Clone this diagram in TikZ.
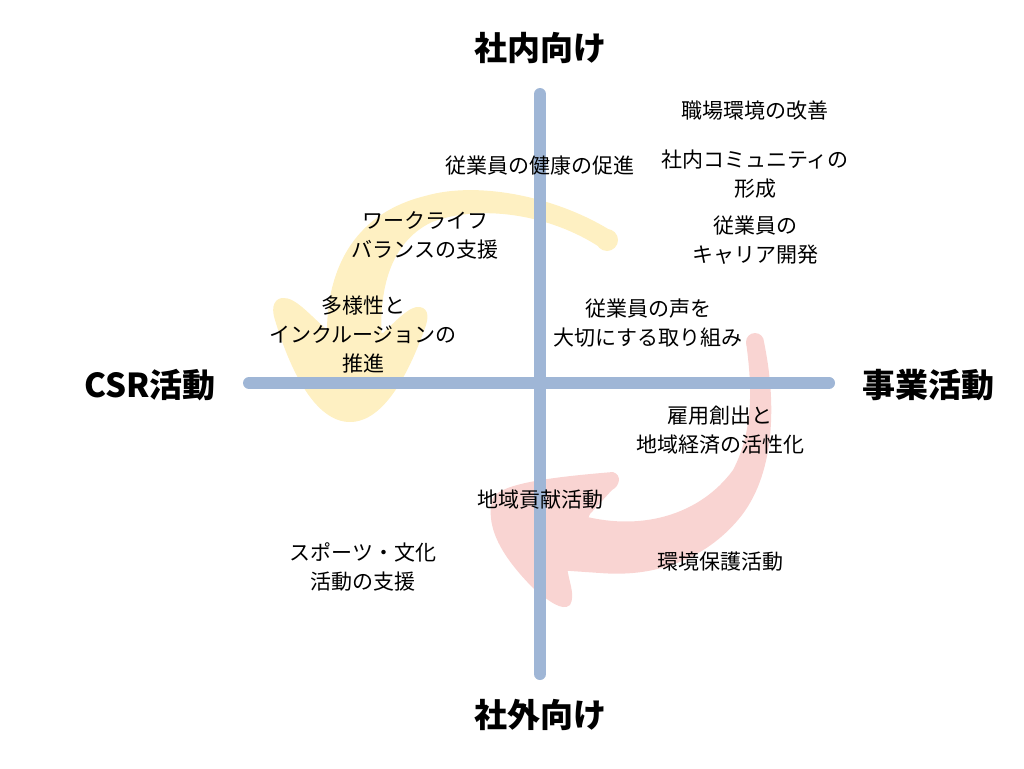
\documentclass[tikz,border=0pt]{standalone}
\usepackage{fontspec}
\setmainfont{Noto Sans CJK JP}
\usepackage{tikz}
\usetikzlibrary{positioning}
\definecolor{axisblue}{HTML}{9FB6D6}
\definecolor{softyellow}{HTML}{FEF0C2}
\definecolor{softred}{HTML}{F9D4D2}

\begin{document}
\begin{tikzpicture}
          [x=1pt, y=-1pt,
           item/.style={align=center, inner sep=0pt, font=\fontsize{21}{29}\selectfont},
           pole/.style={inner sep=0pt, font=\fontsize{33}{40}\selectfont\bfseries},
           axisline/.style={draw=axisblue, line width=12pt, line cap=round}]
          \useasboundingbox (0,0) rectangle (1024,768);

          % yellow arrow (upper left)
          \fill[softyellow] (607,240) circle (11);
          \fill[softyellow] (613,232) .. controls (560,198) and (480,180) .. (425,196)
                .. controls (360,212) and (325,262) .. (327,340)
                -- (382,344) .. controls (378,290) and (390,242) .. (432,222)
                .. controls (480,204) and (550,214) .. (601,248) -- cycle;
          \fill[softyellow] (283,298) .. controls (295,297) and (310,315) .. (325,328)
                -- (383,333) .. controls (395,322) and (410,305) .. (420,307)
                .. controls (430,309) and (428,320) .. (425,328)
                .. controls (410,370) and (385,422) .. (350,422)
                .. controls (315,422) and (290,370) .. (275,320)
                .. controls (270,305) and (276,298) .. (283,298) -- cycle;

          % red arrow (lower right)
          \fill[softred] (755,342) circle (9);
          \fill[softred] (764,342) .. controls (776,400) and (776,470) .. (742,515)
                .. controls (710,556) and (660,578) .. (600,573)
                -- (556,570) -- (576,514)
                .. controls (640,533) and (700,515) .. (733,470)
                .. controls (754,430) and (752,385) .. (746,342) -- cycle;
          \fill[softred] (613,472) .. controls (622,475) and (620,486) .. (612,490)
                -- (590,514) -- (567,566)
                .. controls (568,580) and (576,595) .. (570,605)
                .. controls (562,612) and (548,600) .. (535,590)
                .. controls (505,560) and (485,530) .. (492,500)
                .. controls (497,485) and (540,478) .. (613,472) -- cycle;

          % axes
          \coordinate (top) at (540,94);
          \coordinate (bottom) at (540,674);
          \coordinate (left) at (249,383);
          \coordinate (right) at (829,383);
          \draw[axisline] (top) -- (bottom);
          \draw[axisline] (left) -- (right);

          % axis labels
          \node[pole] (inner) at (540,48) {社内向け};
          \node[pole] (outer) at (540,715) {社外向け};
          \node[pole] (csr) at (150,385) {CSR活動};
          \node[pole] (biz) at (928,385) {事業活動};

          % items
          \node[item] (workplace) at (755,111) {職場環境の改善};
          \node[item] (community) at (755,174) {社内コミュニティの\\形成};
          \node[item] (career) at (755,240) {従業員の\\キャリア開発};
          \node[item] (health) at (540,166) {従業員の健康の促進};
          \node[item] (balance) at (425,235) {ワークライフ\\バランスの支援};
          \node[item] (diversity) at (363,334) {多様性と\\インクルージョンの\\推進};
          \node[item] (voice) at (648,323) {従業員の声を\\大切にする取り組み};
          \node[item] (jobs) at (720,430) {雇用創出と\\地域経済の活性化};
          \node[item] (local) at (540,500) {地域貢献活動};
          \node[item] (sports) at (363,567) {スポーツ・文化\\活動の支援};
          \node[item] (nature) at (720,562) {環境保護活動};
        \end{tikzpicture}
\end{document}
